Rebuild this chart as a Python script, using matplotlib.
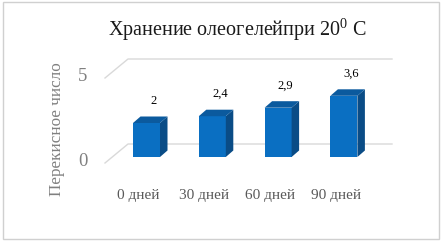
import matplotlib
matplotlib.use("Agg")
import matplotlib.pyplot as plt
from matplotlib.patches import Polygon, Rectangle

categories = ["0 дней", "30 дней", "60 дней", "90 дней"]
values = [2.0, 2.4, 2.9, 3.6]
y_ticks = [0, 5]
title = "Хранение олеогелейпри 20$^0$ С"
ylabel = "Перекисное число"

W, H = 442, 241
fig = plt.figure(figsize=(W / 100, H / 100), dpi=100)
ax = fig.add_axes([0, 0, 1, 1])
ax.axis("off")
plt.rcParams["mathtext.fontset"] = "custom"
plt.rcParams["mathtext.rm"] = "Liberation Serif"
plt.rcParams["mathtext.default"] = "rm"

# pixel scale of the pseudo-3D bar plane
x0_px, dx_px = 146.5, 65.8
y0_px, dy_px = 157.0, 17.0
ax.set_xlim((0 - x0_px) / dx_px, (W - x0_px) / dx_px)
ax.set_ylim((y0_px - H) / dy_px, (y0_px - 0) / dy_px)

def px_x(p):  # pixel offset -> data x units
    return p / dx_px

def px_y(p):  # pixel offset (up positive) -> data y units
    return p / dy_px

serif = ["Liberation Serif", "DejaVu Serif"]
grid_c = "#d9d9d9"

# walls / gridlines (front plane offset down 6px, back plane up 13px)
front_left = (105 - x0_px) / dx_px
back_left = (128 - x0_px) / dx_px
back_right = (392 - x0_px) / dx_px
for t in y_ticks:
    yf = t - px_y(6)
    yb = t + px_y(13)
    ax.plot([front_left, back_left, back_right], [yf, yb, yb], color=grid_c, lw=1, zorder=1)
    ax.text((83 - x0_px) / dx_px, yf + px_y(1.5), str(t), ha="center", va="center",
            fontsize=13.5, color="#808080", family=serif)

# bars: front face + side + top
bw = 27 / dx_px
dpx, dpy = px_x(7.5), px_y(6.5)
front_c, side_c, top_c = "#0a6fc2", "#0a4c86", "#0b5a9e"
bars = ax.bar(range(len(values)), values, width=bw, color=front_c, zorder=3)
for b, v in zip(bars, values):
    x1 = b.get_x()
    x2 = x1 + b.get_width()
    side = Polygon([(x2, 0), (x2 + dpx, dpy), (x2 + dpx, v + dpy), (x2, v)],
                   closed=True, facecolor=side_c, edgecolor="none", zorder=3)
    top = Polygon([(x1, v), (x1 + dpx, v + dpy), (x2 + dpx, v + dpy), (x2, v)],
                  closed=True, facecolor=top_c, edgecolor="none", zorder=3)
    ax.add_patch(side)
    ax.add_patch(top)
    lab = ("%g" % v).replace(".", ",")
    ax.text(b.get_x() + b.get_width() / 2 + px_x(7.5), v + px_y(22), lab,
            ha="center", va="center", fontsize=9, color="#000000", family=serif, zorder=4)

for i, c in enumerate(categories):
    ax.text(i - px_x(8), -px_y(38), c, ha="center", va="center",
            fontsize=11, color="#595959", family=serif)

fig.text(237 / W, 1 - 30 / H, title, ha="center", va="center",
         fontsize=14.5, color="#1a1a1a", family=serif)
fig.text(57 / W, 1 - 129 / H, ylabel, ha="center", va="center", rotation=90,
         fontsize=12.3, color="#808080", family=serif)

fig.patches.append(Rectangle((3 / W, 2 / H), 436 / W, 237 / H, transform=fig.transFigure,
                             fill=False, edgecolor="#d0d0d0", lw=1))

fig.savefig("out.png", dpi=100)
